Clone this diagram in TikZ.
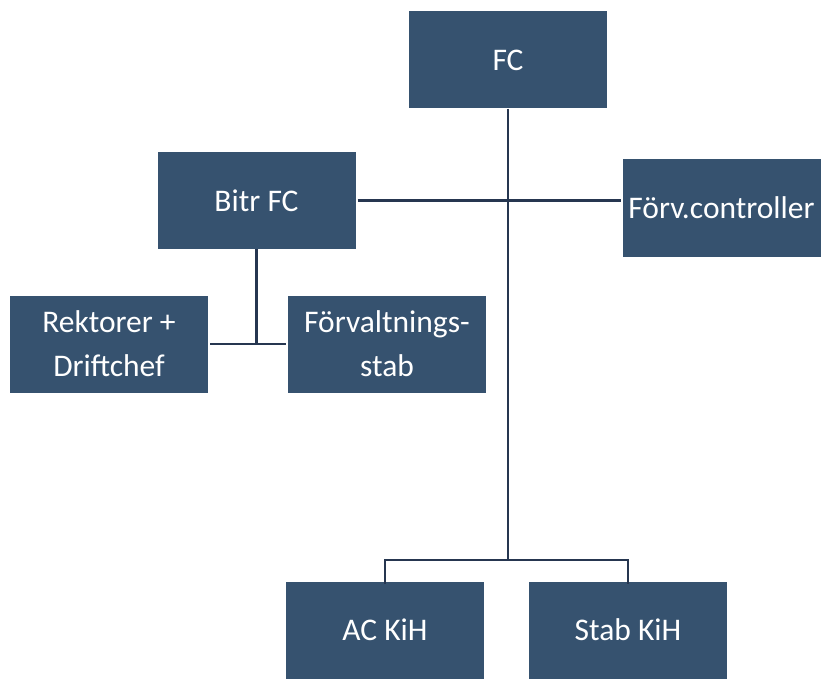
\documentclass[tikz,border=0pt]{standalone}
\usepackage{fontspec}
\setmainfont{Carlito}
\usepackage{xcolor}
\usetikzlibrary{positioning,calc}
\definecolor{boxblue}{RGB}{54,82,111}
\definecolor{linjeblue}{RGB}{38,54,80}

\tikzset{
  ruta/.style={draw=none, fill=boxblue, text=white, minimum width=198pt,
    minimum height=97pt, inner sep=2pt, align=center,
    font=\fontsize{31.5}{44}\selectfont},
  linje/.style={draw=linjeblue, line width=2.4pt}
}

\begin{document}
\begin{tikzpicture}[x=1pt, y=-1pt]
				\useasboundingbox (0,0) rectangle (821,679);
				% Ledning
				\node[ruta] (fc) at (508,60) {FC};
				\node[ruta] (bitr) at (256.5,200.5) {Bitr FC};
				\node[ruta] (ctrl) at (721.5,208) {Förv.controller};
				
				% Under Bitr FC
				\node[ruta] (rekt) at (109,344) {Rektorer +\\Driftchef};
				\node[ruta] (fstab) at (387,344) {Förvaltnings-\\stab};
				
				% KiH
				\node[ruta] (ackih) at (385,630) {AC KiH};
				\node[ruta] (stabkih) at (628,630) {Stab KiH};
				
				% Linjer
				\coordinate (buss) at ($(fc.south)+(0,451)$);
				\draw[linje] (fc.south) -- (buss);
				\draw[linje] ([xshift=2pt]bitr.east) -- ([xshift=-1pt]bitr.east -| ctrl.west);
				\draw[linje] (bitr.south) -- (bitr.south |- rekt.east);
				\draw[linje] ([xshift=2pt]rekt.east) -- ([xshift=-2pt]fstab.west);
				\draw[linje] ([yshift=-3pt]ackih.north) |- (buss) -| ([yshift=-3pt]stabkih.north);
			\end{tikzpicture}
\end{document}
